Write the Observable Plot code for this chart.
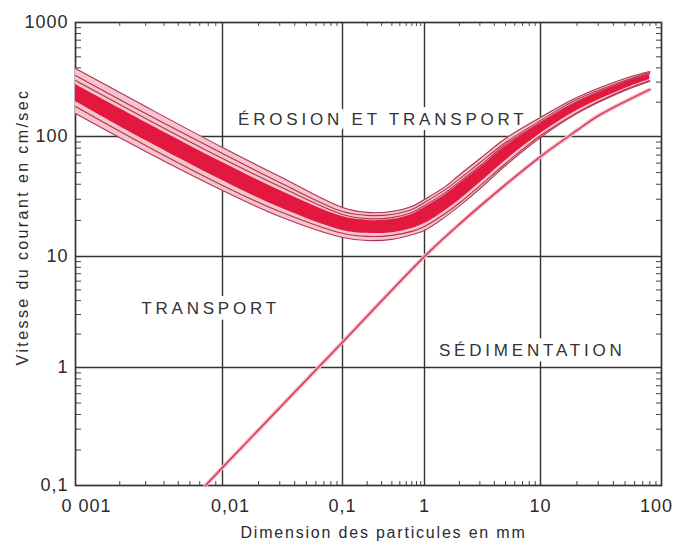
<!DOCTYPE html>
<html>
<head>
<meta charset="utf-8">
<script src="https://cdn.jsdelivr.net/npm/d3@7"></script>
<script src="https://cdn.jsdelivr.net/npm/@observablehq/plot@0.6"></script>
<style>
  html, body { margin: 0; padding: 0; background: #fff; }
</style>
</head>
<body>
<div id="chart"></div>
<script>
// ---- Axis ticks and labels ----
const xTicks = [0.001, 0.01, 0.1, 1, 10, 100];
const xLabels = ["0 001", "0,01", "0,1", "1", "10", "100"];
const yTicks = [0.1, 1, 10, 100, 1000];
const yLabels = ["0,1", "1", "10", "100", "1000"];

// ---- Erosion band (current velocity, cm/s) read at these grain sizes (mm) ----
const sizes   = [0.001, 0.003, 0.01, 0.03, 0.1, 0.2, 0.4, 0.7, 1, 1.5, 2, 3, 5, 10, 20, 50, 80];
const bandTop = [395, 183, 80.9, 46.4, 25.6, 23.3, 23.7, 26.1, 29.9, 38.0, 47.8, 65.2, 96.2, 147, 220, 323, 372];
const bandU2  = [343, 159, 72.2, 41.4, 23.7, 22.0, 22.4, 24.6, 28.2, 35.9, 44.3, 60.4, 89.1, 138, 211, 310, 364];
const bandU3  = [310, 144, 65.6, 38.3, 22.4, 20.7, 21.1, 23.3, 26.6, 33.9, 41.9, 57.0, 85.8, 133, 203, 304, 357];
const coreTop = [286, 133, 60.7, 35.5, 21.5, 20.0, 20.3, 22.4, 25.6, 32.6, 40.3, 54.9, 82.5, 130, 199, 298, 350];
const coreBot = [203, 92.6, 43.0, 25.6, 16.5, 15.6, 15.8, 17.1, 18.8, 24.1, 29.6, 41.1, 63.1, 106, 169, 264, 316];
const bandL1  = [183, 84.1, 39.1, 23.7, 15.6, 14.7, 15.0, 16.2, 17.8, 22.7, 27.9, 38.8, 59.6, 102, 162, 258, 310];
const bandBot = [159, 75.0, 35.5, 21.5, 14.4, 13.6, 13.9, 15.2, 16.5, 21.3, 26.4, 36.7, 57.3, 98.1, 159, 253, 304];

// ---- Sedimentation curve ----
const depSize  = [0.00766, 0.01, 0.0628, 0.1, 1, 2, 5, 10, 20, 30, 79.7];
const depSpeed = [0.1, 0.142, 1, 1.69, 10, 18.6, 39.7, 68, 113, 152, 258];

// ---- Region labels ----
const regionText = ["ÉROSION ET TRANSPORT", "TRANSPORT", "SÉDIMENTATION"];
const regionX = [0.31, 0.0083, 8.5];
const regionY = [142, 3.4, 1.42];

const xTitle = "Dimension des particules en mm";
const yTitle = "Vitesse du courant en cm/sec";

// tables built from the arrays
const band = sizes.map((s, i) => ({
  x: s, top: bandTop[i], u2: bandU2[i], u3: bandU3[i],
  c1: coreTop[i], c2: coreBot[i], l1: bandL1[i], bot: bandBot[i]
}));
const dep = depSize.map((s, i) => ({x: s, y: depSpeed[i]}));
const regions = regionText.map((t, i) => ({t, x: regionX[i], y: regionY[i]}));
const xLab = new Map(xTicks.map((t, i) => [t, xLabels[i]]));
const yLab = new Map(yTicks.map((t, i) => [t, yLabels[i]]));

const minorX = [];
for (let i = 0; i < xTicks.length - 1; i++) for (let k = 2; k <= 9; k++) minorX.push(xTicks[i] * k);
const minorY = [];
for (let i = 0; i < yTicks.length - 1; i++) for (let k = 2; k <= 9; k++) minorY.push(yTicks[i] * k);

const curve = "catmull-rom";
const thin = {stroke: "#b03450", strokeWidth: 1.1, curve};
const tickOpts = {tickSize: 0, tickPadding: 14, fontSize: 18, label: null, tickFormat: d => xLab.get(d)};

const chart = Plot.plot({
  width: 674,
  height: 548,
  marginLeft: 75,
  marginRight: 13,
  marginTop: 22,
  marginBottom: 63,
  x: {type: "log", domain: xTicks, range: [75, 222, 342, 424, 540, 661]},
  y: {type: "log", domain: yTicks, range: [485, 367, 256, 136, 22]},
  style: {fontFamily: "'Liberation Sans', Arial, sans-serif", background: "#fff", color: "#2b2b2b"},
  marks: [
    // grid
    Plot.ruleX(xTicks.slice(1, -1), {stroke: "#333", strokeWidth: 1.4}),
    Plot.ruleY(yTicks.slice(1, -1), {stroke: "#333", strokeWidth: 1.4}),
    // minor ticks (inside the frame)
    Plot.ruleX(minorX, {insetTop: 459, stroke: "#444", strokeWidth: 1}),
    Plot.ruleX(minorX, {insetBottom: 459, stroke: "#555", strokeWidth: 1}),
    Plot.ruleY(minorY, {insetRight: 580, stroke: "#444", strokeWidth: 1}),
    Plot.ruleY(minorY, {insetLeft: 581, stroke: "#444", strokeWidth: 1}),
    Plot.frame({stroke: "#333", strokeWidth: 1.7}),
    // region labels with white halo cutting the grid
    Plot.text(regions, {
      x: "x", y: "y", text: "t", fontSize: 17, fill: "#333",
      stroke: "white", strokeWidth: 12, ariaDescription: "region"
    }),
    // erosion band
    Plot.areaY(band, {x: "x", y1: "bot", y2: "top", fill: "#f6c4cd", curve}),
    Plot.lineY(band, {x: "x", y: "top", ...thin}),
    Plot.lineY(band, {x: "x", y: "u2", ...thin}),
    Plot.lineY(band, {x: "x", y: "u3", ...thin}),
    Plot.lineY(band, {x: "x", y: "l1", ...thin}),
    Plot.lineY(band, {x: "x", y: "bot", ...thin}),
    Plot.areaY(band, {x: "x", y1: "c2", y2: "c1", fill: "#e3183e", curve}),
    // sedimentation curve
    Plot.line(dep, {x: "x", y: "y", stroke: "#f4bcc7", strokeWidth: 4, curve}),
    Plot.line(dep, {x: "x", y: "y", stroke: "#d9365a", strokeWidth: 1.5, curve}),
    // axes
    Plot.axisX({...tickOpts, ticks: [xTicks[0]], dx: 11}),
    Plot.axisX({...tickOpts, ticks: [xTicks[1]], dx: 8}),
    Plot.axisX({...tickOpts, ticks: xTicks.slice(2, -1)}),
    Plot.axisX({...tickOpts, ticks: [xTicks[xTicks.length - 1]], dx: -5}),
    Plot.axisY({ticks: yTicks, tickFormat: d => yLab.get(d), tickSize: 0, tickPadding: 7, fontSize: 18, label: null}),
    // axis titles
    Plot.text([xTitle], {frameAnchor: "bottom", dy: 52, dx: 15, fontSize: 16, fill: "#2b2b2b", ariaDescription: "xtitle"}),
    Plot.text([yTitle], {frameAnchor: "left", textAnchor: "middle", rotate: -90, dx: -53, dy: -27, fontSize: 16, fill: "#2b2b2b", ariaDescription: "ytitle"})
  ]
});

const svg = d3.select(chart);
svg.selectAll('g[aria-description="region"] text').style("letter-spacing", "3.8px");
svg.selectAll('g[aria-description="xtitle"] text').style("letter-spacing", "1.8px");
svg.selectAll('g[aria-description="ytitle"] text').style("letter-spacing", "2.4px");
svg.selectAll('g[aria-label$="tick label"] text').style("letter-spacing", "1px");
document.getElementById("chart").appendChild(chart);
</script>
</body>
</html>
